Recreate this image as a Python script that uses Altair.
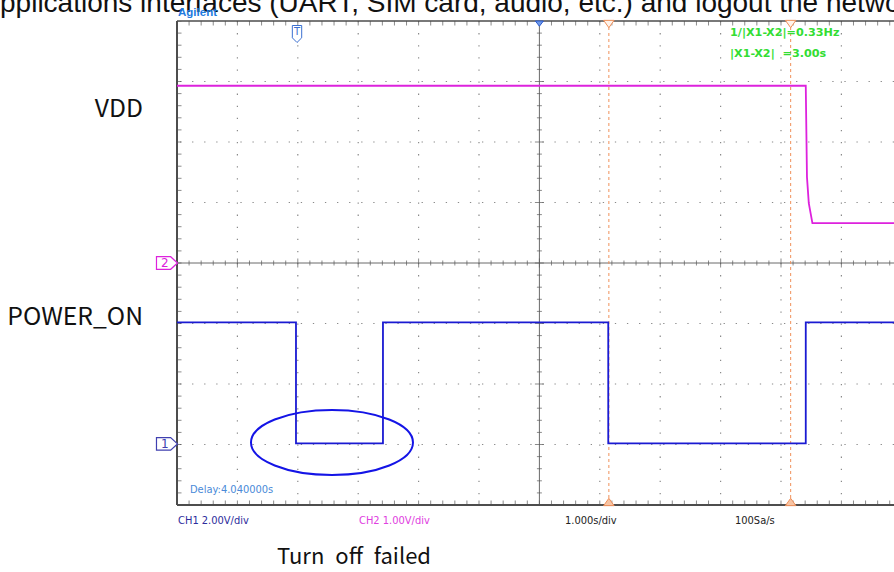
import altair as alt
import pandas as pd

# ---------------- data (time in s, amplitude in screen divisions) ----------------
vdd_t = [0.0, 10.41, 10.43, 10.46, 10.52, 11.88]
vdd_div = [2.93, 2.93, 1.42, 0.99, 0.66, 0.66]

pwr_t = [0.0, 1.97, 1.97, 3.41, 3.41, 7.14, 7.14, 10.41, 10.41, 11.88]
pwr_div = [-0.98, -0.98, -2.98, -2.98, -0.98, -0.98, -2.98, -2.98, -0.98, -0.98]

cursor_t = [7.15, 10.16]
grid_t = [1, 2, 3, 4, 5, 7, 8, 9, 10, 11]
grid_div = [-3, -2, -1, 1, 2, 3]
center_t = [6]
center_div = [0]

X_MAX = 717 / 60.4
W, H = 717, 484

xs = alt.Scale(domain=[0, X_MAX], nice=False, zero=False)
ys = alt.Scale(domain=[-4, 4], nice=False, zero=False)


def X(f="x"):
    return alt.X(f"{f}:Q", scale=xs, axis=None)


def Y(f="y"):
    return alt.Y(f"{f}:Q", scale=ys, axis=None)


GRID = "#8a8a8a"
FRAME = "#4d4d4d"
MAG = "#dd22dd"
BLU = "#1a1ad2"

# ---------------- grid ----------------
vgrid = alt.Chart(pd.DataFrame({"x": grid_t})).mark_rule(
    color=GRID, strokeWidth=1.2, strokeDash=[1.3, 10.8]
).encode(x=X())
hgrid = alt.Chart(pd.DataFrame({"y": grid_div})).mark_rule(
    color=GRID, strokeWidth=1.2, strokeDash=[1.3, 10.78]
).encode(y=Y())
vcenter = alt.Chart(pd.DataFrame({"x": center_t})).mark_rule(
    color="#6a6a6a", strokeWidth=1
).encode(x=X())
hcenter = alt.Chart(pd.DataFrame({"y": center_div})).mark_rule(
    color="#6a6a6a", strokeWidth=1
).encode(y=Y())

# tick marks (every 1/5 division) along borders and centre lines
tx = [round(0.2 * i, 1) for i in range(0, 60)]
ty = [round(-4 + 0.2 * i, 1) for i in range(0, 41)]
rows_v = []
for v in tx:
    major = abs(v - round(v)) < 1e-6
    rows_v.append({"x": v, "y": 4, "len": 9})
    rows_v.append({"x": v, "y": -4, "len": 9})
    rows_v.append({"x": v, "y": 0, "len": 9 if major else 5})
rows_h = []
for v in ty:
    major = abs(v - round(v)) < 1e-6
    rows_h.append({"x": 0, "y": v, "len": 9})
    rows_h.append({"x": 6, "y": v, "len": 9 if major else 5})
ticks_v = alt.Chart(pd.DataFrame(rows_v)).mark_tick(
    orient="vertical", color="#5a5a5a", thickness=1, clip=True
).encode(x=X(), y=Y(), size=alt.Size("len:Q", scale=None))
ticks_h = alt.Chart(pd.DataFrame(rows_h)).mark_tick(
    orient="horizontal", color="#5a5a5a", thickness=1, clip=True
).encode(x=X(), y=Y(), size=alt.Size("len:Q", scale=None))

# frame
left_b = alt.Chart(pd.DataFrame({"x": [0]})).mark_rule(color=FRAME, strokeWidth=2).encode(x=X())
bot_b = alt.Chart(pd.DataFrame({"y": [-4]})).mark_rule(color=FRAME, strokeWidth=2).encode(y=Y())
top_b = alt.Chart(pd.DataFrame({"y": [4]})).mark_rule(color=FRAME, strokeWidth=1.5).encode(y=Y())

# cursors
cursors = alt.Chart(pd.DataFrame({"x": cursor_t})).mark_rule(
    color="#f0905a", strokeWidth=1, strokeDash=[3, 3]
).encode(x=X())
cur_top = alt.Chart(pd.DataFrame({"x": cursor_t, "y": [3.95, 3.95]})).mark_point(
    shape="M-1,-0.7 L1,-0.7 L0,0.7 Z", size=110, filled=True, fill="#fff3ea",
    stroke="#f0905a", strokeWidth=1, opacity=1
).encode(x=X(), y=Y())
cur_bot = alt.Chart(pd.DataFrame({"x": cursor_t, "y": [-3.95, -3.95]})).mark_point(
    shape="M-1,0.7 L1,0.7 L0,-0.7 Z", size=110, filled=True, fill="#f7c4a4",
    stroke="#f0905a", strokeWidth=1, opacity=1
).encode(x=X(), y=Y())

# traces
vdd_line = alt.Chart(pd.DataFrame({"x": vdd_t, "y": vdd_div, "i": range(len(vdd_t))})).mark_line(
    color=MAG, strokeWidth=1.8
).encode(x=X(), y=Y(), order="i:Q")
pwr_line = alt.Chart(pd.DataFrame({"x": pwr_t, "y": pwr_div, "i": range(len(pwr_t))})).mark_line(
    color=BLU, strokeWidth=1.8
).encode(x=X(), y=Y(), order="i:Q")

# ellipse annotation around the failed turn-off pulse
ellipse = alt.Chart(pd.DataFrame({"x": [2.566], "y": [-2.967]})).mark_point(
    shape="M-1,0 A1,0.401 0 1,1 1,0 A1,0.401 0 1,1 -1,0 Z", size=162 * 162,
    filled=False, stroke="#1414e6", strokeWidth=2, opacity=1
).encode(x=X(), y=Y())

# trigger markers
trig = alt.Chart(pd.DataFrame({"x": [1.987], "y": [3.785]})).mark_point(
    shape="M-0.55,-1 L0.55,-1 L0.55,0.45 L0,1 L-0.55,0.45 Z", size=289,
    filled=True, fill="#ffffff", stroke="#3a6fd0", strokeWidth=1, opacity=1
).encode(x=X(), y=Y())
trig_txt = alt.Chart(pd.DataFrame({"x": [1.987], "y": [3.82], "t": ["T"]})).mark_text(
    color="#3a6fd0", fontSize=10, font="DejaVu Sans", baseline="middle", align="center"
).encode(x=X(), y=Y(), text="t:N")
trigpos = alt.Chart(pd.DataFrame({"x": [6.0], "y": [3.96]})).mark_point(
    shape="M-1,-0.6 L1,-0.6 L0,0.7 Z", size=64, filled=True, fill="#6f9ae8",
    stroke="#2a5ad0", strokeWidth=1, opacity=1
).encode(x=X(), y=Y())

# channel ground markers
ch_marker = alt.Chart(pd.DataFrame({"x": [-0.166, -0.166], "y": [0.0, -2.99], "c": [MAG, "#4040b0"]})).mark_point(
    shape="M-1,-0.6 L0.35,-0.6 L1,0 L0.35,0.6 L-1,0.6 Z", size=440,
    filled=True, fill="#ffffff", strokeWidth=1.2, opacity=1
).encode(x=X(), y=Y(), stroke=alt.Stroke("c:N", scale=None))
ch_txt = alt.Chart(pd.DataFrame({"x": [-0.2, -0.2], "y": [0.0, -2.99], "t": ["2", "1"], "c": [MAG, "#4040b0"]})).mark_text(
    fontSize=12, font="DejaVu Sans", baseline="middle", align="center"
).encode(x=X(), y=Y(), text="t:N", color=alt.Color("c:N", scale=None))

# ---------------- texts ----------------
title = alt.Chart(pd.DataFrame({"x": [-2.930], "y": [4.149],
                                "t": ["pplications interfaces (UART, SIM card, audio, etc.) and logout the network"]})).mark_text(
    fontSize=28, font="Liberation Sans", color="#111111", align="left", baseline="alphabetic"
).encode(x=X(), y=Y(), text="t:N")

big_font = "Noto Sans CJK KR"
side_lbl = alt.Chart(pd.DataFrame({"x": [-0.563, -0.563], "y": [2.529, -0.909], "t": ["VDD", "POWER_ON"]})).mark_text(
    fontSize=24.7, font=big_font, color="#111111", align="right", baseline="middle"
).encode(x=X(), y=Y(), text="t:N")
caption = alt.Chart(pd.DataFrame({"x": [2.93], "y": [-4.86],
                                  "t": ["Turn\u2002off\u2002failed"]})).mark_text(
    fontSize=22, font=big_font, color="#111111", align="center", baseline="middle"
).encode(x=X(), y=Y(), text="t:N")

agilent = alt.Chart(pd.DataFrame({"x": [0.017], "y": [4.083], "t": ["Agilent"]})).mark_text(
    fontSize=11.5, font="Liberation Sans", fontWeight="bold", color="#1e7be0", align="left", baseline="alphabetic"
).encode(x=X(), y=Y(), text="t:N")

readout = alt.Chart(pd.DataFrame({"x": [9.156, 9.156], "y": [3.80, 3.455],
                                  "t": ["1/|X1-X2|=0.33Hz", "|X1-X2|\u00a0\u00a0=3.00s"]})).mark_text(
    fontSize=11.2, font="DejaVu Sans", fontWeight="bold", color="#33dd33", align="left", baseline="middle"
).encode(x=X(), y=Y(), text="t:N")

delay = alt.Chart(pd.DataFrame({"x": [0.215], "y": [-3.752], "t": ["Delay:4.040000s"]})).mark_text(
    fontSize=11, font="DejaVu Sans Condensed, DejaVu Sans", color="#4a8ad8", align="left", baseline="middle"
).encode(x=X(), y=Y(), text="t:N")

bottom = alt.Chart(pd.DataFrame({"x": [0.017, 3.013, 6.424, 9.238], "y": [-4.264] * 4,
                                 "t": ["CH1 2.00V/div", "CH2 1.00V/div", "1.000s/div", "100Sa/s"],
                                 "c": ["#2c2c9c", "#e040e0", "#222222", "#222222"]})).mark_text(
    fontSize=11, font="DejaVu Sans Condensed, DejaVu Sans", align="left", baseline="middle"
).encode(x=X(), y=Y(), text="t:N", color=alt.Color("c:N", scale=None))

chart = alt.layer(
    vgrid, hgrid, vcenter, hcenter, ticks_v, ticks_h, left_b, bot_b, top_b,
    cursors, cur_top, cur_bot, vdd_line, pwr_line, ellipse, trig, trig_txt, trigpos,
    ch_marker, ch_txt, title, side_lbl, caption, agilent, readout, delay, bottom
).properties(
    width=W, height=H,
    autosize=alt.AutoSizeParams(type="none"),
    padding={"left": 177, "top": 21, "right": 0, "bottom": 67},
    background="white",
).configure_view(stroke=None)

chart.save("out.html", embed_options={"renderer": "svg", "actions": False})
